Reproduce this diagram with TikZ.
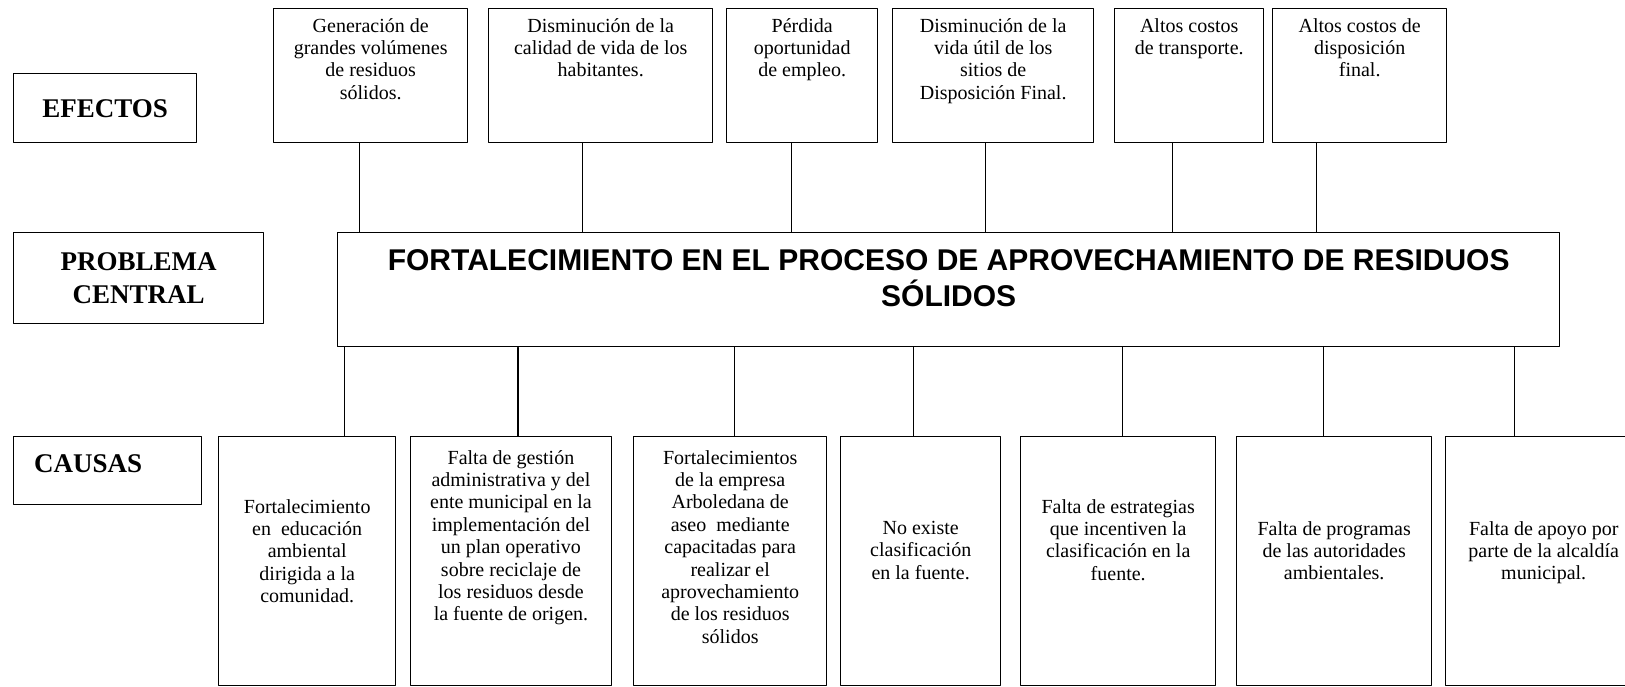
\documentclass[tikz,border=0pt]{standalone}
\usepackage{fontspec}
\setmainfont{Liberation Serif}
\newfontfamily\arial{Liberation Sans}
\begin{document}
\begin{tikzpicture}[x=1pt,y=-1pt, line join=round, line cap=round,
	caja/.style={draw, line width=1.4pt, anchor=north west, inner sep=0pt},
	texto/.style={anchor=north, align=center, inner sep=0pt, font=\fontsize{20}{22.4}\selectfont},
	titulo/.style={align=center, font=\bfseries\fontsize{27}{32.5}\selectfont},
	union/.style={line width=1.2pt}]
		\useasboundingbox (0,0) rectangle (1625,686);
		
		% Rótulos
		\node[caja, titulo, minimum width=183pt, minimum height=69pt] (efectos) at (13,73) {EFECTOS};
		\node[caja, titulo, minimum width=250pt, minimum height=91pt] (central) at (13,232) {PROBLEMA\\CENTRAL};
		\node[caja, minimum width=188pt, minimum height=68pt, label={[titulo, anchor=north west, inner sep=0pt, xshift=21pt, yshift=-18pt]north west:CAUSAS}] (causas) at (13,436) {};
		
		% Problema central
		\node[caja, minimum width=1222pt, minimum height=114pt, label={[anchor=north, align=center, inner sep=0pt, font=\arial\bfseries\fontsize{30}{36}\selectfont, yshift=-17pt]north:FORTALECIMIENTO EN EL PROCESO DE APROVECHAMIENTO DE RESIDUOS\\SÓLIDOS}] (problema) at (337,232) {};
		
		% Efectos
		\node[caja, minimum width=194pt, minimum height=134pt, label={[texto, yshift=-10pt]north:Generación de\\grandes volúmenes\\de residuos\\sólidos.}] (ef1) at (273,8) {};
		\node[caja, minimum width=224pt, minimum height=134pt, label={[texto, yshift=-10pt]north:Disminución de la\\calidad de vida de los\\habitantes.}] (ef2) at (488,8) {};
		\node[caja, minimum width=151pt, minimum height=134pt, label={[texto, yshift=-10pt]north:Pérdida\\oportunidad\\de empleo.}] (ef3) at (726,8) {};
		\node[caja, minimum width=201pt, minimum height=134pt, label={[texto, yshift=-10pt]north:Disminución de la\\vida útil de los\\sitios de\\Disposición Final.}] (ef4) at (892,8) {};
		\node[caja, minimum width=149pt, minimum height=134pt, label={[texto, yshift=-10pt]north:Altos costos\\de transporte.}] (ef5) at (1114,8) {};
		\node[caja, minimum width=174pt, minimum height=134pt, label={[texto, yshift=-10pt]north:Altos costos de\\disposición\\final.}] (ef6) at (1272,8) {};
		
		\draw[union] ([xshift=-11pt]ef1.south) -- ([xshift=-11pt]ef1.south |- problema.north);
		\draw[union] ([xshift=-18pt]ef2.south) -- ([xshift=-18pt]ef2.south |- problema.north);
		\draw[union] ([xshift=-10.5pt]ef3.south) -- ([xshift=-10.5pt]ef3.south |- problema.north);
		\draw[union] ([xshift=-7.5pt]ef4.south) -- ([xshift=-7.5pt]ef4.south |- problema.north);
		\draw[union] ([xshift=-16.5pt]ef5.south) -- ([xshift=-16.5pt]ef5.south |- problema.north);
		\draw[union] ([xshift=-43pt]ef6.south) -- ([xshift=-43pt]ef6.south |- problema.north);
		
		% Causas
		\node[caja, minimum width=177pt, minimum height=249pt, label={[texto, yshift=-63pt]north:Fortalecimiento\\en~~educación\\ambiental\\dirigida a la\\comunidad.}] (ca1) at (218,436) {};
		\node[caja, minimum width=201.5pt, minimum height=249pt, label={[texto, yshift=-14pt]north:Falta de gestión\\administrativa y del\\ente municipal en la\\implementación del\\un plan operativo\\sobre reciclaje de\\los residuos desde\\la fuente de origen.}] (ca2) at (409.5,436) {};
		\node[caja, minimum width=193pt, minimum height=249pt, label={[texto, yshift=-14pt]north:Fortalecimientos\\de la empresa\\Arboledana de\\aseo~~mediante\\capacitadas para\\realizar el\\aprovechamiento\\de los residuos\\sólidos}] (ca3) at (633,436) {};
		\node[caja, minimum width=160pt, minimum height=249pt, label={[texto, yshift=-85pt]north:No existe\\clasificación\\en la fuente.}] (ca4) at (840,436) {};
		\node[caja, minimum width=195pt, minimum height=249pt, label={[texto, yshift=-63pt]north:Falta de estrategias\\que incentiven la\\clasificación en la\\fuente.}] (ca5) at (1020,436) {};
		\node[caja, minimum width=195pt, minimum height=249pt, label={[texto, yshift=-85pt]north:Falta de programas\\de las autoridades\\ambientales.}] (ca6) at (1236,436) {};
		\node[caja, minimum width=196pt, minimum height=249pt, label={[texto, yshift=-85pt]north:Falta de apoyo por\\parte de la alcaldía\\municipal.}] (ca7) at (1445,436) {};
		
		\draw[union] ([xshift=37.5pt]ca1.north) -- ([xshift=37.5pt]ca1.north |- problema.south);
		\draw[union] ([xshift=7pt]ca2.north) -- ([xshift=7pt]ca2.north |- problema.south);
		\draw[union] ([xshift=4.5pt]ca3.north) -- ([xshift=4.5pt]ca3.north |- problema.south);
		\draw[union] ([xshift=-7pt]ca4.north) -- ([xshift=-7pt]ca4.north |- problema.south);
		\draw[union] ([xshift=4.5pt]ca5.north) -- ([xshift=4.5pt]ca5.north |- problema.south);
		\draw[union] ([xshift=-10.5pt]ca6.north) -- ([xshift=-10.5pt]ca6.north |- problema.south);
		\draw[union] ([xshift=-29pt]ca7.north) -- ([xshift=-29pt]ca7.north |- problema.south);
\end{tikzpicture}
\end{document}
